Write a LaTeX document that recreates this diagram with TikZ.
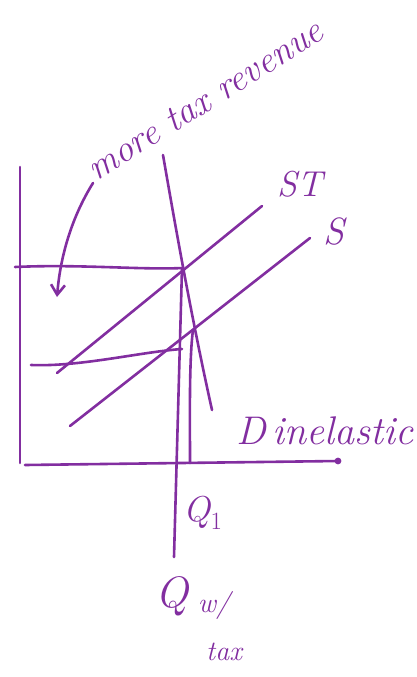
\documentclass[tikz,border=0pt]{standalone}
\usetikzlibrary{arrows.meta}
\definecolor{pen}{RGB}{130,46,160}
\begin{document}
\begin{tikzpicture}[x=1pt,y=-1pt,
  ink/.style={draw=pen,line width=2.6pt,line cap=round,line join=round},
  lbl/.style={text=pen,inner sep=0pt,font=\itshape}]
\useasboundingbox (0,0) rectangle (417,677);
% axes
\coordinate (ytop) at (20,167);
\coordinate (orig) at (20,463);
\coordinate (xend) at (338,461);
\draw[ink] (ytop) -- (orig);
\draw[ink] (25,465) coordinate (xstart) -- (xend);
\fill[pen] (xend) circle (3.4);
% demand
\coordinate (dtop) at (163,155);
\coordinate (dbot) at (212,410);
\draw[ink] (dtop) .. controls (176,230) and (192,320) .. (dbot);
% supply curves
\coordinate (st1) at (57,373); \coordinate (st2) at (262,206);
\coordinate (s1) at (70,426);  \coordinate (s2) at (310,238);
\draw[ink] (st1) -- (st2);
\draw[ink] (s1) -- (s2);
% price lines
\coordinate (p1a) at (15,267); \coordinate (p1b) at (183,268);
\draw[ink] (p1a) .. controls (80,264) and (140,270) .. (p1b);
\coordinate (p2a) at (31,365); \coordinate (p2b) at (182,349);
\draw[ink] (p2a) .. controls (80,367) and (140,352) .. (p2b);
% quantity lines
\coordinate (qt1) at (182,268); \coordinate (qt2) at (174,557);
\draw[ink] (qt1) -- (qt2);
\coordinate (q1a) at (193,330); \coordinate (q1b) at (190,463);
\draw[ink] (q1a) .. controls (189,360) and (190,420) .. (q1b);
% arrow
\coordinate (ar1) at (93,183); \coordinate (ar2) at (57,297);
\draw[ink,-{Straight Barb[length=10pt,width=14pt]}] (ar1) .. controls (70,220) and (60,260) .. (ar2);
% labels
\node[lbl,rotate=32,font=\itshape\fontsize{37}{37}\selectfont] (rev) at (205,100) {more tax revenue};
\node[lbl,font=\itshape\fontsize{36}{36}\selectfont] (stl) at (300,184) {ST};
\node[lbl,font=\itshape\fontsize{38}{38}\selectfont] (sl) at (334,232) {S};
\node[lbl,font=\itshape\fontsize{40}{40}\selectfont] (dl) at (325,431) {D\,inelastic};
\node[lbl,font=\itshape\fontsize{36}{36}\selectfont] (q1) at (203,513) {Q$_1$};
\node[lbl,font=\itshape\fontsize{44}{44}\selectfont] (qw) at (172,596) {Q};
\node[lbl,font=\itshape\fontsize{28}{28}\selectfont] (wl) at (214,605) {w/};
\node[lbl,font=\itshape\fontsize{28}{28}\selectfont] (tl) at (224,652) {tax};
\end{tikzpicture}
\end{document}
